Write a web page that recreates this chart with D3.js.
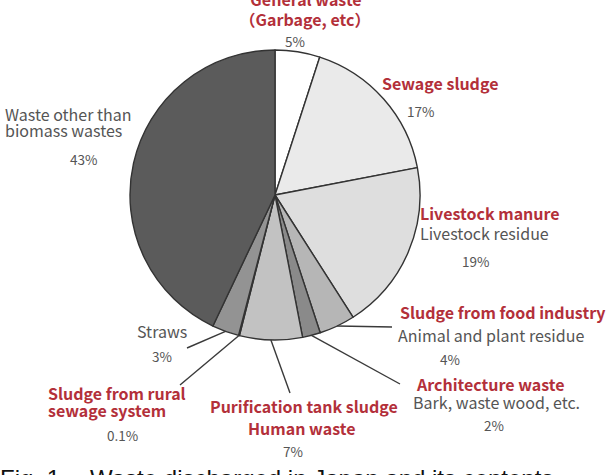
<!DOCTYPE html>
<html>
<head>
<meta charset="utf-8">
<script src="https://cdn.jsdelivr.net/npm/d3@7"></script>
<style>
  body { margin: 0; background: #fff; }
  svg { display: block; }
</style>
</head>
<body>
<script>
// Tamaño de la figura
const WIDTH = 611;
const HEIGHT = 475;

// Datos del gráfico (sentido horario desde arriba)
const categorias = [
  "General waste", "Sewage sludge", "Livestock manure", "Sludge from food industry",
  "Architecture waste", "Purification tank sludge", "Sludge from rural sewage system",
  "Straws", "Waste other than biomass wastes"
];
const porcentajes = [5, 17, 19, 4, 2, 7, 0.1, 3, 43];
const etiquetasPct = ["5%", "17%", "19%", "4%", "2%", "7%", "0.1%", "3%", "43%"];
const colores = ["#ffffff", "#eaeaea", "#dedede", "#b6b6b6", "#8a8a8a", "#c2c2c2", "#1c1c4a", "#939393", "#5b5b5b"];

// Textos de cada etiqueta: líneas rojas (negrita) y grises
const lineasRojas = [
  ["General waste", "（Garbage, etc）"], ["Sewage sludge"], ["Livestock manure"],
  ["Sludge from food industry"], ["Architecture waste"], ["Purification tank sludge", "Human waste"],
  ["Sludge from rural", "sewage system"], [], []
];
const lineasGrises = [
  [], [], ["Livestock residue"], ["Animal and plant residue"], ["Bark, waste wood, etc."],
  [], [], ["Straws"], ["Waste other than", "biomass wastes"]
];

// Layout: x y baseline de líneas rojas (xr, yr) y grises (xg, yg), porcentaje y fin de guía
const layout = [
  { xr: [306, 305], yr: [6, 26], xg: [], yg: [], anchor: "middle", px: 295, py: 47 },
  { xr: [382], yr: [90], xg: [], yg: [], anchor: "start", px: 407, py: 117 },
  { xr: [420], yr: [220], xg: [420], yg: [240], anchor: "start", px: 462, py: 267 },
  { xr: [400], yr: [319], xg: [398], yg: [342], anchor: "start", px: 440, py: 365, guia: [392, 327] },
  { xr: [417], yr: [391], xg: [413], yg: [409], anchor: "start", px: 484, py: 431, guia: [400, 384] },
  { xr: [210, 248], yr: [413, 435], xg: [], yg: [], anchor: "start", px: 283, py: 457, guia: [290, 393] },
  { xr: [48, 48], yr: [400, 417], xg: [], yg: [], anchor: "start", px: 107, py: 441, guia: [180, 385] },
  { xr: [], yr: [], xg: [137], yg: [338], anchor: "start", px: 152, py: 362, guia: [187, 348] },
  { xr: [], yr: [], xg: [5, 5], yg: [121, 137], anchor: "start", px: 70, py: 165 }
];

const ROJO = "#b3303a";
const GRIS = "#555555";
const FUENTE = "'Noto Sans CJK JP', 'Noto Sans', sans-serif";

const svg = d3.select("body").append("svg")
  .attr("width", WIDTH)
  .attr("height", HEIGHT);

const cx = 275, cy = 195, radio = 145;

const datos = categorias.map((c, i) => ({ categoria: c, valor: porcentajes[i], i }));

const pie = d3.pie().sort(null).value(d => d.valor);
const arco = d3.arc().innerRadius(0).outerRadius(radio);
const arcos = pie(datos);

const contenedorPie = svg.append("g")
  .attr("transform", `translate(${cx}, ${cy})`);

contenedorPie.selectAll("path")
  .data(arcos)
  .join("path")
  .attr("d", arco)
  .attr("fill", d => colores[d.data.i])
  .attr("stroke", "#333")
  .attr("stroke-width", 1.4)
  .attr("stroke-linejoin", "round");

// Líneas guía desde el borde del pie hasta la etiqueta
arcos.forEach(a => {
  const l = layout[a.data.i];
  if (!l.guia) return;
  const ang = (a.startAngle + a.endAngle) / 2;
  const x0 = cx + Math.sin(ang) * radio;
  const y0 = cy - Math.cos(ang) * radio;
  svg.append("line")
    .attr("x1", x0).attr("y1", y0)
    .attr("x2", l.guia[0]).attr("y2", l.guia[1])
    .attr("stroke", "#3a3a3a")
    .attr("stroke-width", 1.4);
});

// Etiquetas
datos.forEach((d, i) => {
  const l = layout[i];
  lineasRojas[i].forEach((t, j) => {
    svg.append("text")
      .attr("x", l.xr[j])
      .attr("y", l.yr[j])
      .attr("text-anchor", l.anchor)
      .attr("font-family", FUENTE)
      .attr("font-weight", "bold")
      .attr("font-size", 16)
      .attr("fill", ROJO)
      .text(t);
  });
  lineasGrises[i].forEach((t, j) => {
    svg.append("text")
      .attr("x", l.xg[j])
      .attr("y", l.yg[j])
      .attr("text-anchor", l.anchor)
      .attr("font-family", FUENTE)
      .attr("font-size", 16)
      .attr("fill", GRIS)
      .text(t);
  });
  svg.append("text")
    .attr("x", l.px)
    .attr("y", l.py)
    .attr("text-anchor", l.anchor)
    .attr("font-family", FUENTE)
    .attr("font-size", 13.5)
    .attr("fill", GRIS)
    .text(etiquetasPct[i]);
});

// Pie de figura (recortado por el borde inferior)
svg.append("text")
  .attr("x", 0).attr("y", 487)
  .attr("font-family", "'Liberation Sans', Arial, sans-serif")
  .attr("font-size", 24)
  .attr("fill", "#111")
  .text("Fig. 1");
svg.append("text")
  .attr("x", 90).attr("y", 487)
  .attr("font-family", "'Liberation Sans', Arial, sans-serif")
  .attr("font-size", 24)
  .attr("fill", "#111")
  .text("Waste discharged in Japan and its contents");
</script>
</body>
</html>
